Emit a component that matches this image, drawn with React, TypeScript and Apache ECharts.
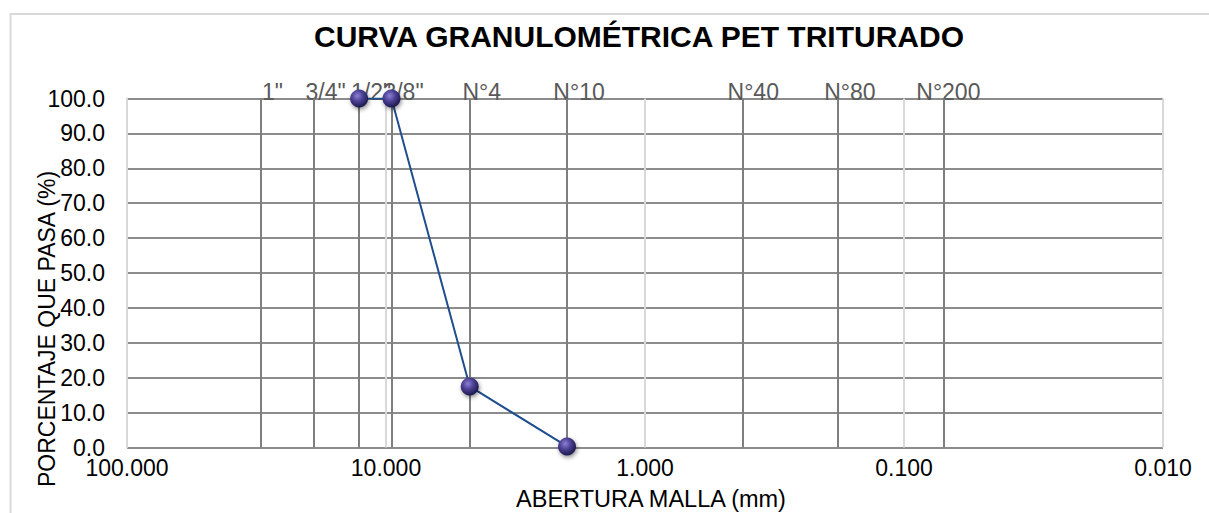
import React, { useEffect, useRef } from "react";
import * as echarts from "echarts";

const TITLE = "CURVA GRANULOMÉTRICA PET TRITURADO";
const X_TITLE = "ABERTURA MALLA (mm)";
const Y_TITLE = "PORCENTAJE QUE PASA (%)";

const SIEVE_LABELS = ['1"', '3/4"', '1/2"', '3/8"', "N°4", "N°10", "N°40", "N°80", "N°200"];
const SIEVE_MM = [30.5, 19.05, 12.7, 9.525, 4.75, 2.0, 0.425, 0.18, 0.075];

const OPENING_MM = [12.7, 9.525, 4.75, 2.0];
const PASSING_PCT = [100, 100, 17.5, 0.3];

const X_MIN = 0.01;
const X_MAX = 100;
const Y_MIN = 0;
const Y_MAX = 100;
const Y_STEP = 10;

const FONT = "'Liberation Sans', Arial, sans-serif";

export default function App() {
  const ref = useRef<HTMLDivElement>(null);

  useEffect(() => {
    if (!ref.current) return;
    const chart = echarts.init(ref.current, null, { renderer: "svg" });

    const option: any = {
      animation: false,
      backgroundColor: "#ffffff",
      textStyle: { fontFamily: FONT },
      grid: { left: 127, right: 46, top: 98.5, bottom: 65.5, containLabel: false },
      graphic: [
        {
          type: "rect",
          shape: { x: 10.5, y: 14, width: 1300, height: 600 },
          style: { fill: "none", stroke: "#d9d9d9", lineWidth: 2 },
          silent: true,
          z: -10,
        },
        {
          type: "text",
          x: 639,
          y: 36,
          style: {
            text: TITLE,
            fontFamily: FONT,
            fontSize: 30,
            fontWeight: "bold",
            fill: "#000000",
            align: "center",
            verticalAlign: "middle",
          },
        },
        {
          type: "text",
          x: 651,
          y: 499,
          style: {
            text: X_TITLE,
            fontFamily: FONT,
            fontSize: 23.5,
            fill: "#000000",
            align: "center",
            verticalAlign: "middle",
          },
        },
        {
          type: "text",
          x: 47,
          y: 329,
          rotation: Math.PI / 2,
          style: {
            text: Y_TITLE,
            fontFamily: FONT,
            fontSize: 23,
            fill: "#000000",
            align: "center",
            verticalAlign: "middle",
          },
        },
      ],
      xAxis: {
        type: "log",
        logBase: 10,
        min: X_MIN,
        max: X_MAX,
        inverse: true,
        axisLine: { show: false },
        axisTick: { show: false },
        axisLabel: {
          show: true,
          margin: 9,
          fontSize: 23,
          color: "#000000",
          fontFamily: FONT,
          showMinLabel: true,
          showMaxLabel: true,
          formatter: (v: number) => Number(v).toFixed(3),
        },
        splitLine: { show: true, lineStyle: { color: "#d9d9d9", width: 2 } },
      },
      yAxis: {
        type: "value",
        min: Y_MIN,
        max: Y_MAX,
        interval: Y_STEP,
        axisLine: { show: true, lineStyle: { color: "#d9d9d9", width: 2 } },
        axisTick: { show: false },
        axisLabel: {
          margin: 22,
          fontSize: 23,
          color: "#000000",
          fontFamily: FONT,
          formatter: (v: number) => Number(v).toFixed(1),
        },
        splitLine: { show: true, lineStyle: { color: "#8c8c8c", width: 2 } },
      },
      series: [
        {
          name: "Tamices",
          type: "scatter",
          z: 3,
          symbolSize: 1,
          itemStyle: { color: "rgba(0,0,0,0)", opacity: 1 },
          silent: true,
          data: SIEVE_MM.map((v, i) => ({ value: [v, Y_MAX], name: SIEVE_LABELS[i] })),
          label: {
            show: true,
            position: "inside",
            formatter: "{b}",
            offset: [12, -6.5],
            fontSize: 23,
            fontFamily: FONT,
            color: "#595959",
            opacity: 1,
            textBorderWidth: 0,
          },
          markLine: {
            silent: true,
            symbol: ["none", "none"],
            label: { show: false },
            lineStyle: { color: "#7f7f7f", width: 2, type: "solid", opacity: 1 },
            data: SIEVE_MM.map((v) => ({ xAxis: v })),
          },
        },
        {
          name: "PET triturado",
          type: "line",
          z: 5,
          data: OPENING_MM.map((x, i) => [x, PASSING_PCT[i]]),
          lineStyle: { color: "#1f4e8c", width: 2 },
          symbol: "circle",
          symbolSize: 18,
          itemStyle: {
            color: {
              type: "radial",
              x: 0.4,
              y: 0.35,
              r: 0.65,
              colorStops: [
                { offset: 0, color: "#8a80d4" },
                { offset: 0.5, color: "#4a3f92" },
                { offset: 1, color: "#1d1a4c" },
              ],
            },
            borderWidth: 0,
            shadowBlur: 4,
            shadowColor: "rgba(0,0,0,0.45)",
            shadowOffsetX: 1,
            shadowOffsetY: 2,
          },
        },
      ],
    };

    chart.setOption(option);
    return () => chart.dispose();
  }, []);

  return (
    <div
      ref={ref}
      style={{ position: "fixed", left: 0, top: 0, width: 1209, height: 513, background: "#ffffff" }}
    />
  );
}
